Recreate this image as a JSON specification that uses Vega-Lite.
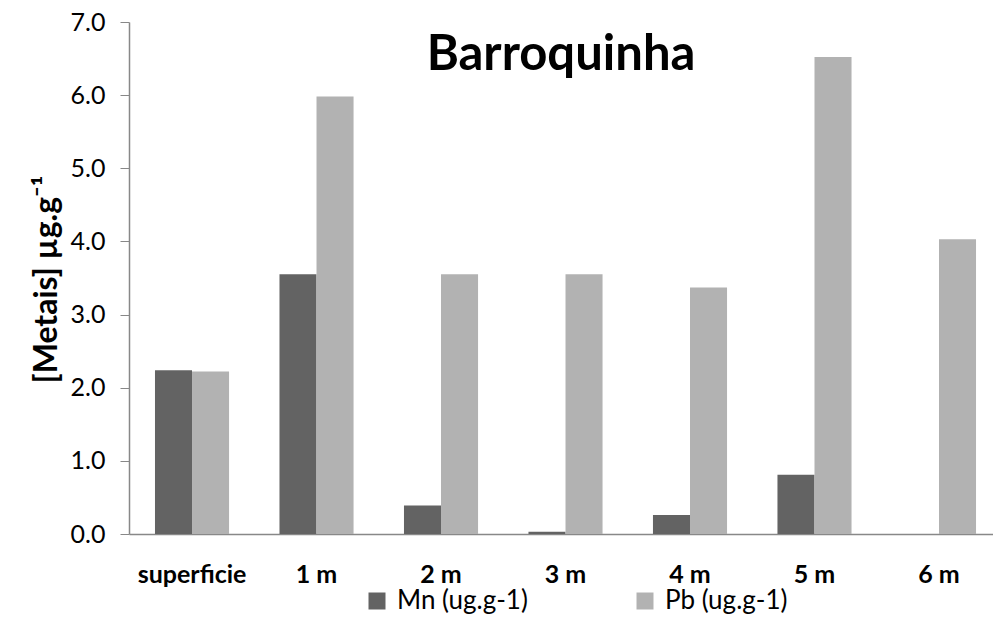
{
  "$schema": "https://vega.github.io/schema/vega-lite/v6.json",
  "width": 864,
  "height": 512,
  "autosize": {"type": "none"},
  "padding": {"left": 129, "top": 22, "right": 0, "bottom": 93},
  "background": "white",
  "title": {
    "text": "Barroquinha",
    "font": "Lato",
    "fontSize": 49,
    "fontWeight": "bold",
    "color": "#000000",
    "anchor": "middle",
    "frame": "group",
    "baseline": "alphabetic",
    "offset": -53,
    "dy": 56
  },
  "config": {
    "view": {"stroke": null},
    "axis": {"grid": false}
  },
  "data": {
    "values": [
      {"depth": "superficie", "metal": "Mn (ug.g-1)", "value": 2.24},
      {"depth": "superficie", "metal": "Pb (ug.g-1)", "value": 2.22},
      {"depth": "1 m", "metal": "Mn (ug.g-1)", "value": 3.55},
      {"depth": "1 m", "metal": "Pb (ug.g-1)", "value": 5.98},
      {"depth": "2 m", "metal": "Mn (ug.g-1)", "value": 0.39},
      {"depth": "2 m", "metal": "Pb (ug.g-1)", "value": 3.55},
      {"depth": "3 m", "metal": "Mn (ug.g-1)", "value": 0.03},
      {"depth": "3 m", "metal": "Pb (ug.g-1)", "value": 3.55},
      {"depth": "4 m", "metal": "Mn (ug.g-1)", "value": 0.26},
      {"depth": "4 m", "metal": "Pb (ug.g-1)", "value": 3.37},
      {"depth": "5 m", "metal": "Mn (ug.g-1)", "value": 0.81},
      {"depth": "5 m", "metal": "Pb (ug.g-1)", "value": 6.52},
      {"depth": "6 m", "metal": "Mn (ug.g-1)", "value": 0.0},
      {"depth": "6 m", "metal": "Pb (ug.g-1)", "value": 4.03}
    ]
  },
  "mark": {"type": "bar"},
  "encoding": {
    "x": {
      "field": "depth",
      "type": "nominal",
      "sort": null,
      "scale": {"paddingInner": 0.405, "paddingOuter": 0.1725, "align": 0.605},
      "axis": {
        "title": null,
        "labelAngle": 0,
        "labelFont": "Lato",
        "labelFontSize": 25,
        "labelFontWeight": "bold",
        "labelColor": "#000000",
        "labelPadding": 28,
        "ticks": false,
        "domainColor": "#888888",
        "domainWidth": 1.5
      }
    },
    "xOffset": {"field": "metal", "type": "nominal", "scale": {"paddingInner": 0, "paddingOuter": 0}},
    "y": {
      "field": "value",
      "type": "quantitative",
      "scale": {"domain": [0, 7], "nice": false},
      "axis": {
        "values": [0, 1, 2, 3, 4, 5, 6, 7],
        "format": ".1f",
        "title": "[Metais] µg.g⁻¹",
        "titleFont": "Lato",
        "titleFontSize": 32,
        "titleFontWeight": "bold",
        "titleColor": "#000000",
        "titleAngle": -90,
        "titleBaseline": "alphabetic",
        "titleAlign": "center",
        "titleX": -73,
        "titleY": 257,
        "labelFont": "Lato",
        "labelFontSize": 25,
        "labelColor": "#000000",
        "labelPadding": 15,
        "tickSize": 9,
        "tickColor": "#888888",
        "domainColor": "#888888",
        "domainWidth": 1.5
      }
    },
    "color": {
      "field": "metal",
      "type": "nominal",
      "scale": {"range": ["#636363", "#b2b2b2"]},
      "legend": {
        "title": null,
        "orient": "none",
        "direction": "horizontal",
        "legendX": 235,
        "legendY": 566,
        "symbolType": "square",
        "symbolSize": 289,
        "symbolStrokeWidth": 0,
        "labelFont": "Lato",
        "labelFontSize": 26,
        "labelColor": "#000000",
        "labelOffset": 7,
        "columnPadding": 104
      }
    }
  }
}
